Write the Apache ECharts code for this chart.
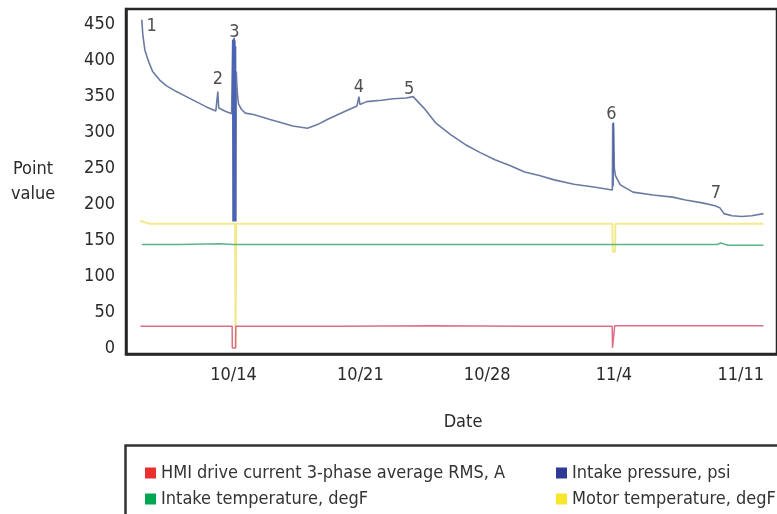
<!DOCTYPE html>
<html>
<head>
<meta charset="utf-8">
<script src="https://cdn.jsdelivr.net/npm/echarts@6/dist/echarts.min.js"></script>
<style>
  html, body { margin: 0; padding: 0; background: #ffffff; }
  #chart { width: 777px; height: 514px; }
</style>
</head>
<body>
<div id="chart"></div>
<script>
// ---- data (x = day of Oct; 31 + n = Nov n) ----
const xTickValues = [14, 21, 28, 35, 42];
const xTickLabels = ['10/14', '10/21', '10/28', '11/4', '11/11'];
const yTickValues = [0, 50, 100, 150, 200, 250, 300, 350, 400, 450];

const seriesNames = [
  'HMI drive current 3-phase average RMS, A',
  'Intake temperature, degF',
  'Intake pressure, psi',
  'Motor temperature, degF'
];

const pressureDays = [8.93, 8.99, 9.10, 9.32, 9.53, 9.92, 10.30, 10.84, 11.39, 11.93, 12.47, 13.02, 13.07, 13.13, 13.18, 13.51, 13.89, 13.93, 13.95, 13.97, 13.99, 14.01, 14.03, 14.05, 14.07, 14.09, 14.11, 14.13, 14.15, 14.18, 14.22, 14.27, 14.44, 14.65, 15.09, 15.52, 16.01, 16.45, 17.27, 18.08, 18.63, 19.17, 20.10, 20.81, 20.92, 20.97, 21.35, 22.17, 22.82, 23.53, 23.91, 24.51, 25.17, 25.98, 26.80, 27.62, 28.43, 29.25, 30.07, 30.88, 31.70, 32.79, 33.88, 34.91, 34.93, 34.95, 34.97, 34.99, 35.02, 35.08, 35.35, 36.05, 37.15, 38.24, 38.95, 39.87, 40.58, 40.85, 41.07, 41.51, 42.05, 42.60, 43.25];
const pressureValues = [457, 436, 415, 398, 385, 373, 365, 357, 350, 343, 336, 330, 332, 357, 334, 330, 326, 326, 429, 176, 430, 176, 432, 176, 428, 176, 420, 176, 385, 365, 352, 340, 332, 327, 325, 322, 318, 315, 309, 306, 311, 318, 329, 337, 350, 339, 343, 345, 347, 348, 350, 334, 313, 297, 283, 272, 262, 254, 245, 240, 234, 228, 224, 220, 313, 225, 314, 300, 250, 240, 227, 217, 213, 210, 206, 202, 198, 195, 187, 184, 183, 184, 187];

const motorDays = [8.83, 9.37, 12.0, 14.08, 14.10, 14.11, 14.14, 14.15, 20.0, 28.0, 34.91, 34.93, 35.06, 35.08, 40.0, 43.25];
const motorValues = [177, 173, 173, 173, 173, 0, 0, 173, 173, 173, 173, 134, 134, 173, 173, 173];

const intakeTempDays = [8.93, 11.0, 13.2, 14.0, 20.0, 30.0, 40.7, 40.9, 41.3, 43.25];
const intakeTempValues = [144, 144, 145, 144, 144, 144, 144, 146, 143, 143];

const currentDays = [8.86, 12.0, 13.92, 13.93, 14.11, 14.12, 20.0, 25.0, 30.0, 34.90, 34.92, 35.02, 35.04, 38.0, 43.25];
const currentValues = [30, 30, 30, 0, 0, 30, 30, 31, 30, 30, 0, 0, 31, 31, 31];

const annotationDays = [9.48, 13.13, 14.05, 20.92, 23.69, 34.86, 40.63];
const annotationValues = [448, 374, 440, 363, 360, 325, 215];
const annotationTexts = ['1', '2', '3', '4', '5', '6', '7'];

// ---- build ----
const pair = (xs, ys) => xs.map((x, i) => [x, ys[i]]);
const FONT = "'Liberation Sans Narrow', 'DejaVu Sans Condensed', 'Liberation Sans', sans-serif";

const chart = echarts.init(document.getElementById('chart'), null, { renderer: 'canvas' });

const lineBase = { type: 'line', showSymbol: false, symbol: 'none', animation: false, silent: true };

chart.setOption({
  backgroundColor: '#ffffff',
  animation: false,
  textStyle: { fontFamily: FONT },
  grid: {
    left: 126, top: 9, width: 660, height: 345,
    show: true, borderColor: '#262626', borderWidth: 2.5, backgroundColor: 'transparent'
  },
  xAxis: {
    type: 'value', min: 8.06, max: 44.0,
    axisLine: { show: true, onZero: false, lineStyle: { color: '#262626', width: 2.5 } },
    axisTick: { show: false },
    splitLine: { show: false },
    axisLabel: {
      customValues: xTickValues,
      formatter: v => xTickLabels[xTickValues.indexOf(Math.round(v))] || '',
      fontFamily: FONT, fontSize: 18, color: '#2a2a2a', margin: 12
    }
  },
  yAxis: {
    type: 'value', min: -8.5, max: 472,
    name: 'Point\nvalue', nameLocation: 'middle', nameRotate: 0, nameGap: 93,
    nameTextStyle: { fontFamily: FONT, fontSize: 18, color: '#2a2a2a', align: 'center', lineHeight: 25, padding: [4, 0, 0, 0] },
    axisLine: { show: true, lineStyle: { color: '#262626', width: 2.5 } },
    axisTick: { show: false },
    splitLine: { show: false },
    axisLabel: {
      customValues: yTickValues,
      fontFamily: FONT, fontSize: 18, color: '#2a2a2a', margin: 11
    }
  },
  visualMap: {
    type: 'piecewise', show: false, dimension: 0, seriesIndex: 3,
    pieces: [
      { gt: 13.92, lt: 14.16, color: '#4a63b3' },
      { gt: 34.92, lt: 35.0, color: '#4a63b3' }
    ],
    outOfRange: { color: '#6a7aa2' }
  },
  legend: [
    {
      left: 140, top: 459, orient: 'vertical', itemGap: 8, itemWidth: 11, itemHeight: 11, icon: 'rect',
      textStyle: { fontFamily: FONT, fontSize: 18, color: '#333', lineHeight: 18 },
      selectedMode: false,
      data: [
        { name: seriesNames[0], itemStyle: { color: '#e8312f' } },
        { name: seriesNames[1], itemStyle: { color: '#00a651' } }
      ]
    },
    {
      left: 551, top: 459, orient: 'vertical', itemGap: 8, itemWidth: 11, itemHeight: 11, icon: 'rect',
      textStyle: { fontFamily: FONT, fontSize: 18, color: '#333', lineHeight: 18 },
      selectedMode: false,
      data: [
        { name: seriesNames[2], itemStyle: { color: '#2e3a94' } },
        { name: seriesNames[3], itemStyle: { color: '#f7e62b' } }
      ]
    }
  ],
  graphic: [
    {
      type: 'rect', left: 123, top: 443, silent: true,
      shape: { width: 680, height: 100 },
      style: { fill: 'none', stroke: '#333', lineWidth: 2.5 }
    },
    {
      type: 'text', x: 463, y: 422, silent: true,
      style: { text: 'Date', fontFamily: FONT, fontSize: 18, fill: '#2a2a2a', align: 'center', verticalAlign: 'middle' }
    }
  ],
  series: [
    Object.assign({}, lineBase, {
      name: seriesNames[3], z: 2,
      data: pair(motorDays, motorValues),
      itemStyle: { color: '#f7e62b' },
      lineStyle: { color: '#f3ea8e', width: 2 }
    }),
    Object.assign({}, lineBase, {
      name: seriesNames[1], z: 3,
      data: pair(intakeTempDays, intakeTempValues),
      itemStyle: { color: '#00a651' },
      lineStyle: { color: '#5fb487', width: 1.5 }
    }),
    Object.assign({}, lineBase, {
      name: seriesNames[0], z: 3,
      data: pair(currentDays, currentValues),
      itemStyle: { color: '#e8312f' },
      lineStyle: { color: '#dc6f86', width: 1.5 }
    }),
    Object.assign({}, lineBase, {
      name: seriesNames[2], z: 4,
      data: pair(pressureDays, pressureValues),
      itemStyle: { color: '#2e3a94' },
      lineStyle: { width: 1.6 }
    }),
    {
      type: 'scatter', name: 'annotations', animation: false, silent: true, z: 5,
      symbolSize: 1, itemStyle: { color: 'rgba(0,0,0,0)' },
      data: annotationDays.map((d, i) => [d, annotationValues[i], annotationTexts[i]]),
      label: {
        show: true, position: 'inside', formatter: p => p.value[2],
        fontFamily: FONT, fontSize: 18, color: '#222'
      }
    }
  ]
});
</script>
</body>
</html>
